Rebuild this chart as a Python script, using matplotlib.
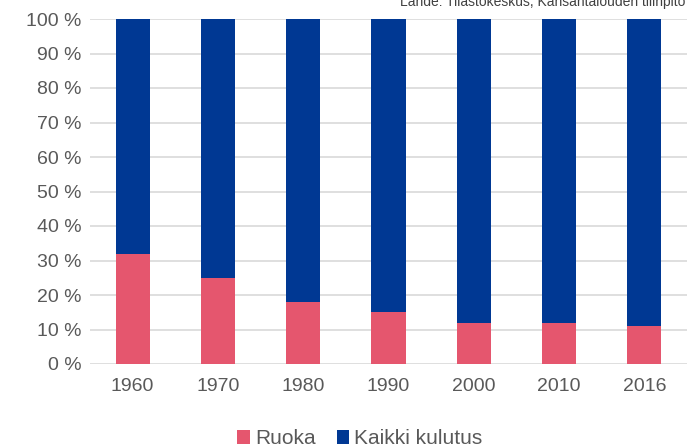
import matplotlib.pyplot as plt
import numpy as np

plt.rcParams['font.family'] = ['Liberation Sans', 'DejaVu Sans']

years = ['1960', '1970', '1980', '1990', '2000', '2010', '2016']
ruoka = [32, 25, 18, 15, 12, 12, 11]
kaikki = [100 - r for r in ruoka]

fig = plt.figure(figsize=(6.87, 4.47), dpi=100)
ax = fig.add_axes([90 / 687, 1 - 364 / 447, 597 / 687, 345 / 447])

x = np.arange(len(years))
ax.bar(x, ruoka, width=0.4, color='#E5566E', label='Ruoka', zorder=3)
ax.bar(x, kaikki, width=0.4, bottom=ruoka, color='#003893', label='Kaikki kulutus', zorder=3)

ax.set_xlim(-0.5, len(years) - 0.5)
ax.set_ylim(0, 100)
ax.set_yticks(range(0, 101, 10))
ax.set_yticklabels([f'{v} %' for v in range(0, 101, 10)])
ax.set_xticks(x)
ax.set_xticklabels(years)
ax.tick_params(axis='both', length=0, labelsize=14, colors='#595959')
ax.tick_params(axis='x', pad=10)
ax.tick_params(axis='y', pad=6)
ax.grid(axis='y', color='#D9D9D9', linewidth=1.2, zorder=0)
for s in ax.spines.values():
    s.set_visible(False)

fig.legend(loc='lower center', bbox_to_anchor=(0.524, -0.045), ncol=2, frameon=False,
           fontsize=15, handlelength=0.6, handleheight=0.6, handletextpad=0.25,
           columnspacing=1.0, labelcolor='#595959')

fig.text(0.998, 1.012, 'Lähde: Tilastokeskus, Kansantalouden tilinpito', ha='right', va='top',
         fontsize=10, color='#404040')

fig.savefig('out.png', dpi=100)
